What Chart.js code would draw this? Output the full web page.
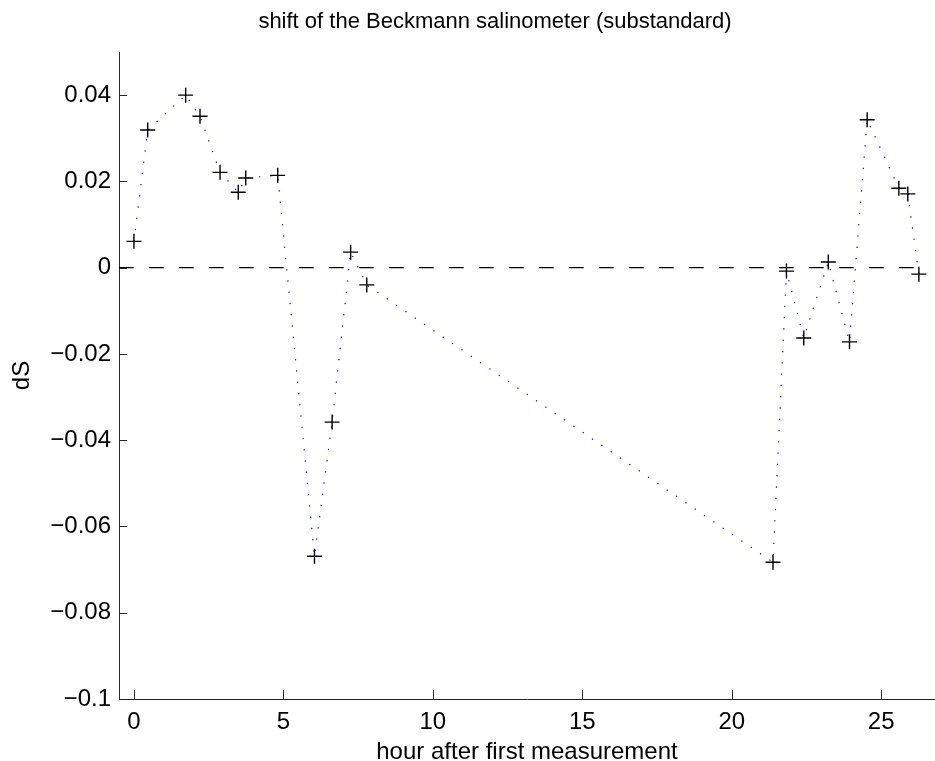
<!DOCTYPE html>
<html>
<head>
<meta charset="utf-8">
<script src="https://cdn.jsdelivr.net/npm/chart.js@4/dist/chart.umd.min.js"></script>
<style>
  html, body { margin: 0; padding: 0; background: #fff; }
  #wrap { width: 935px; height: 761px; position: relative; }
</style>
</head>
<body>
<div id="wrap"><canvas id="c"></canvas></div>
<script>
// ---- data ----
const hours = [0.0, 0.46, 1.73, 2.21, 2.88, 3.49, 3.74, 4.81, 6.04, 6.63, 7.25, 7.79,
               21.38, 21.83, 22.41, 23.23, 23.94, 24.53, 25.59, 25.89, 26.26];
const dS = [0.0061, 0.0319, 0.0400, 0.0351, 0.0221, 0.0175, 0.0208, 0.0214, -0.0669, -0.0358, 0.0036, -0.0040,
            -0.0683, -0.0008, -0.0163, 0.0013, -0.0172, 0.0343, 0.0184, 0.0171, -0.0015];
const zeroLineX = [-0.5, 26.26];
const zeroLineY = [0, 0];
const xTickValues = [0, 5, 10, 15, 20, 25];
const xTickLabels = ['0', '5', '10', '15', '20', '25'];
const yTickValues = [-0.1, -0.08, -0.06, -0.04, -0.02, 0, 0.02, 0.04];
const yTickLabels = ['\u22120.1', '\u22120.08', '\u22120.06', '\u22120.04', '\u22120.02', '0', '0.02', '0.04'];
const titleText = 'shift of the Beckmann salinometer (substandard)';
const xTitle = 'hour after first measurement';
const yTitle = 'dS';

const FONT = '"Liberation Sans", Arial, Helvetica, sans-serif';
const AXIS_COLOR = '#262626';

const pts = hours.map((h, i) => ({ x: h, y: dS[i] }));
const zeroPts = zeroLineX.map((x, i) => ({ x: x, y: zeroLineY[i] }));

function labelFor(values, labels) {
  return function (v) {
    for (let i = 0; i < values.length; i++) {
      if (Math.abs(values[i] - v) < 1e-9) return labels[i];
    }
    return '';
  };
}

const inwardTicks = {
  id: 'inwardTicks',
  afterDatasetsDraw(chart) {
    const ctx = chart.ctx;
    const xs = chart.scales.x, ys = chart.scales.y;
    const a = chart.chartArea;
    ctx.save();
    ctx.strokeStyle = AXIS_COLOR;
    ctx.lineWidth = 1;
    ctx.beginPath();
    xTickValues.forEach(v => {
      const px = Math.round(xs.getPixelForValue(v)) + 0.5;
      ctx.moveTo(px, a.bottom);
      ctx.lineTo(px, a.bottom - 9);
    });
    yTickValues.forEach(v => {
      const py = Math.round(ys.getPixelForValue(v)) + 0.5;
      ctx.moveTo(a.left, py);
      ctx.lineTo(a.left + 8, py);
    });
    ctx.stroke();
    ctx.restore();
  }
};

// Title drawn centred where the reference has it (MATLAB centres over the full axes box)
const topTitle = {
  id: 'topTitle',
  afterDraw(chart) {
    const ctx = chart.ctx;
    ctx.save();
    ctx.fillStyle = '#000';
    ctx.font = '22px ' + FONT;
    ctx.textAlign = 'center';
    ctx.textBaseline = 'alphabetic';
    ctx.fillText(titleText, 495, 27.5);
    ctx.restore();
  }
};

new Chart(document.getElementById('c'), {
  type: 'scatter',
  data: {
    datasets: [
      {
        label: 'zero',
        data: zeroPts,
        showLine: true,
        borderColor: '#000000',
        borderWidth: 1.3,
        borderDash: [14.7, 15.3],
        pointRadius: 0,
        fill: false
      },
      {
        label: 'dS',
        data: pts,
        showLine: true,
        borderColor: '#0000ff',
        borderWidth: 1.2,
        borderDash: [1.3, 10],
        pointStyle: 'cross',
        pointRadius: 7.5,
        pointBorderColor: '#000000',
        pointBorderWidth: 1.4,
        pointBackgroundColor: '#000000',
        fill: false
      }
    ]
  },
  options: {
    responsive: true,
    maintainAspectRatio: false,
    animation: false,
    layout: { autoPadding: false, padding: { left: 0, right: 0, top: 52, bottom: 0 } },
    plugins: {
      legend: { display: false },
      tooltip: { enabled: false },
      title: { display: false }
    },
    scales: {
      x: {
        type: 'linear',
        min: -0.5,
        max: 26.8,
        afterFit(scale) {
          scale.height = 62;
          scale.paddingLeft = 0; scale.paddingRight = 0;
          scale.paddingTop = 0; scale.paddingBottom = 0;
        },
        afterBuildTicks(scale) { scale.ticks = xTickValues.map(v => ({ value: v })); },
        grid: { display: false, drawTicks: false },
        border: { display: true, color: AXIS_COLOR, width: 1 },
        ticks: {
          color: '#000',
          padding: 9,
          maxRotation: 0,
          autoSkip: false,
          font: { family: FONT, size: 24 },
          callback: labelFor(xTickValues, xTickLabels)
        },
        title: {
          display: true,
          text: xTitle,
          color: '#000',
          font: { family: FONT, size: 24, lineHeight: 0.75 },
          padding: { top: 0, bottom: 0 }
        }
      },
      y: {
        type: 'linear',
        min: -0.1,
        max: 0.05,
        afterFit(scale) {
          scale.width = 119;
          scale.paddingLeft = 0; scale.paddingRight = 0;
          scale.paddingTop = 0; scale.paddingBottom = 0;
        },
        afterBuildTicks(scale) { scale.ticks = yTickValues.map(v => ({ value: v })); },
        grid: { display: false, drawTicks: false },
        border: { display: true, color: AXIS_COLOR, width: 1 },
        ticks: {
          color: '#000',
          padding: 8,
          autoSkip: false,
          font: { family: FONT, size: 24 },
          callback: labelFor(yTickValues, yTickLabels)
        },
        title: {
          display: true,
          text: yTitle,
          color: '#000',
          font: { family: FONT, size: 24, lineHeight: 1.2 },
          padding: { top: 8, bottom: 0 }
        }
      }
    }
  },
  plugins: [inwardTicks, topTitle]
});
</script>
</body>
</html>
